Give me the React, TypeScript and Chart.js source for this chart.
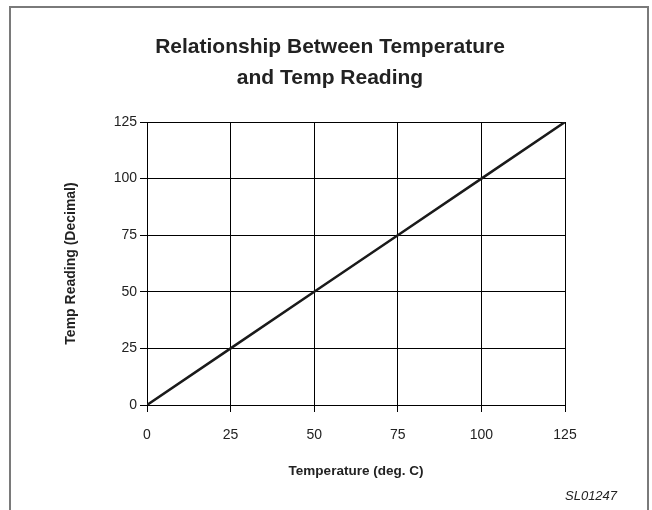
import React, { useEffect, useRef } from "react";
import { Chart, registerables } from "chart.js";

Chart.register(...registerables);

const temperatures = [0, 25, 50, 75, 100, 125];
const readings = [0, 25, 50, 75, 100, 125];
const titleLines = ["Relationship Between Temperature", "and Temp Reading"];
const xTitle = "Temperature (deg. C)";
const yTitle = "Temp Reading (Decimal)";
const codeLabel = "SL01247";

const FONT = "'Liberation Sans', Arial, Helvetica, sans-serif";

const decorPlugin = {
  id: "decor",
  beforeDraw(chart: any) {
    const ctx = chart.ctx;
    ctx.save();
    ctx.fillStyle = "#ffffff";
    ctx.fillRect(0, 0, chart.width, chart.height);
    ctx.strokeStyle = "#7a7a7a";
    ctx.lineWidth = 2;
    ctx.beginPath();
    ctx.moveTo(10, 510);
    ctx.lineTo(10, 7);
    ctx.lineTo(648, 7);
    ctx.lineTo(648, 510);
    ctx.stroke();
    ctx.restore();
  },
  afterDraw(chart: any) {
    const ctx = chart.ctx;
    ctx.save();
    ctx.fillStyle = "#222222";
    ctx.textAlign = "center";
    ctx.textBaseline = "middle";
    ctx.font = `bold 21px ${FONT}`;
    titleLines.forEach((t, i) => ctx.fillText(t, 330, 47 + i * 31));
    ctx.font = `italic 13px ${FONT}`;
    ctx.textAlign = "left";
    ctx.fillText(codeLabel, 565, 496);
    ctx.restore();
  },
};

export default function App() {
  const ref = useRef<HTMLCanvasElement | null>(null);
  useEffect(() => {
    if (!ref.current) return;
    const chart = new Chart(ref.current, {
      type: "line",
      data: {
        datasets: [
          {
            data: temperatures.map((t, i) => ({ x: t, y: readings[i] })),
            borderColor: "#1a1a1a",
            borderWidth: 2.5,
            pointRadius: 0,
            fill: false,
            tension: 0,
          },
        ],
      },
      options: {
        responsive: false,
        animation: false,
        layout: { padding: { left: 0, right: 87, top: 122, bottom: 0 } },
        plugins: {
          legend: { display: false },
          title: { display: false },
          tooltip: { enabled: false },
        },
        scales: {
          x: {
            type: "linear",
            min: 0,
            max: 125,
            afterFit: (s: any) => {
              s.height = 105;
            },
            ticks: {
              stepSize: 25,
              color: "#222222",
              padding: 15,
              font: { family: FONT, size: 14 },
              maxRotation: 0,
            },
            grid: { color: "#000000", lineWidth: 1, tickLength: 7, drawTicks: true },
            border: { color: "#000000", width: 1 },
            title: {
              display: true,
              text: xTitle,
              color: "#222222",
              font: { family: FONT, size: 13.5, weight: "bold" },
              padding: { top: 0, bottom: 31 },
            },
          },
          y: {
            type: "linear",
            min: 0,
            max: 125,
            afterFit: (s: any) => {
              s.width = 147;
            },
            ticks: {
              stepSize: 25,
              color: "#222222",
              padding: 3,
              font: { family: FONT, size: 14 },
            },
            grid: { color: "#000000", lineWidth: 1, tickLength: 7, drawTicks: true },
            border: { color: "#000000", width: 1 },
            title: {
              display: true,
              text: yTitle,
              color: "#222222",
              font: { family: FONT, size: 14, weight: "bold" },
              padding: { top: 63, bottom: 0 },
            },
          },
        },
      },
      plugins: [decorPlugin],
    });
    return () => chart.destroy();
  }, []);
  return (
    <div style={{ position: "absolute", left: 0, top: 0, width: 652, height: 510 }}>
      <canvas ref={ref} width={652} height={510} style={{ display: "block" }} />
    </div>
  );
}
